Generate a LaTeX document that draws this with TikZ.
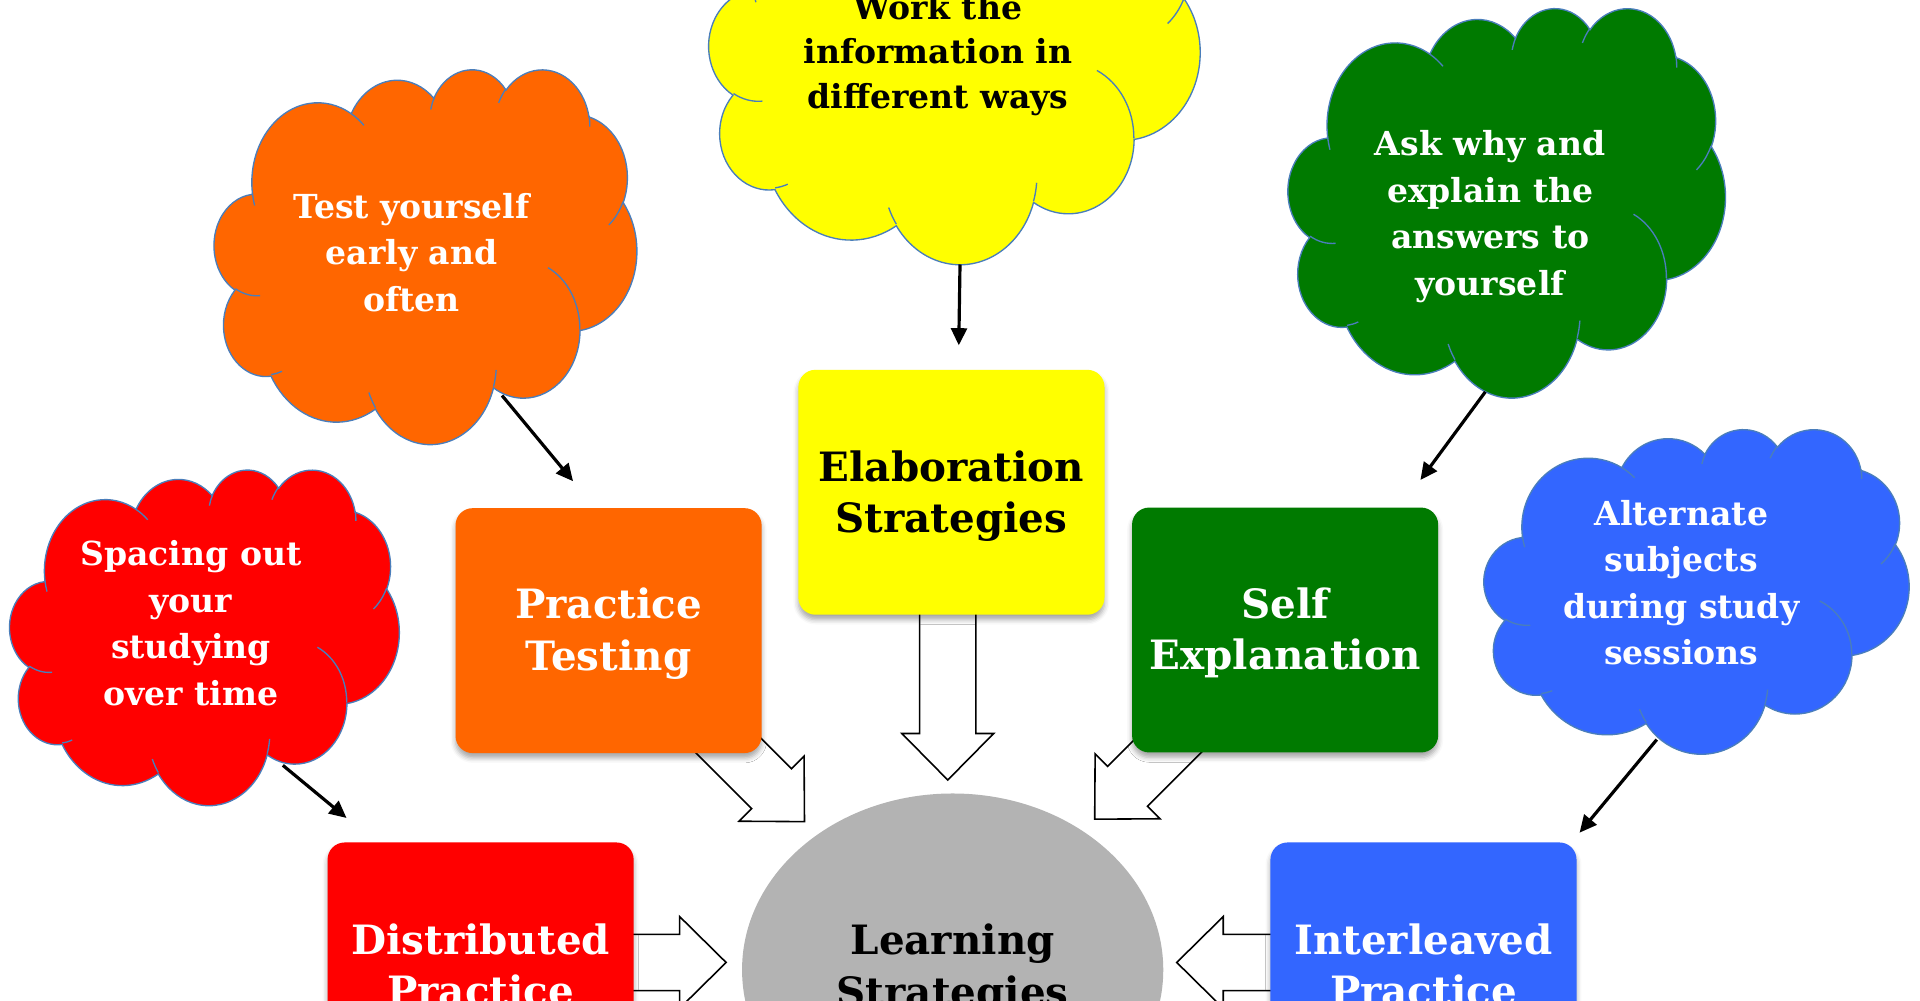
\documentclass[tikz,border=0pt]{standalone}
\usepackage{fontspec}
\setmainfont{DejaVu Serif}
\usetikzlibrary{shapes.geometric,arrows.meta,shadows.blur}

\definecolor{cOrange}{HTML}{FF6600}
\definecolor{cYellow}{HTML}{FFFF00}
\definecolor{cGreen}{HTML}{007A00}
\definecolor{cRed}{HTML}{FF0000}
\definecolor{cBlue}{HTML}{3366FF}
\definecolor{cGray}{HTML}{B3B3B3}
\definecolor{cOutline}{HTML}{4A7EBB}

\newcommand\boxfont{\fontsize{33}{42}\selectfont\bfseries}
\newcommand\cloudfont{\fontsize{27}{38}\selectfont\bfseries}

% elliptical arc with DrawingML-style (visual) angles
\newcommand\vArc[4]{%
 \pgfextra{%
  \pgfmathparse{atan2((#1)*sin(#3),(#2)*cos(#3))}\xdef\vaS{\pgfmathresult}%
  \pgfmathparse{atan2((#1)*sin((#3)+(#4)),(#2)*cos((#3)+(#4)))}\xdef\vaE{\pgfmathresult}%
  \pgfmathparse{\vaE-\vaS}\xdef\vaD{\pgfmathresult}%
  \pgfmathparse{(#4>0)?((\vaD<0)?(\vaD+360):(\vaD)):((\vaD>0)?(\vaD-360):(\vaD))}\xdef\vaD{\pgfmathresult}%
 }%
 arc[start angle=\vaS, delta angle=\vaD, x radius=#1, y radius=#2]%
}

\newcommand\ppcloud[5]{% x0 y0 w h fill
 \begin{scope}[shift={(#1,#2)},xscale=#3/432,yscale=#4/432]
  \filldraw[fill=#5, draw=cOutline, line width=1.1pt]
   (39,143.7)
   \vArc{67.53}{91.90}{-190.4875}{123.7805}
   \vArc{53.33}{72.67}{-144.1024}{89.9452}
   \vArc{43.65}{59.45}{-145.8079}{99.7230}
   \vArc{48.57}{65.95}{-130.9861}{117.2417}
   \vArc{53.33}{72.73}{-78.7089}{109.0269}
   \vArc{67.75}{92.20}{-46.2673}{130.2690}
   \vArc{57.85}{78.67}{0.6250}{114.0333}
   \vArc{67.52}{92.15}{22.4516}{115.1726}
   \vArc{77.20}{105.43}{66.2426}{75.7110}
   \vArc{43.60}{59.18}{-274.9421}{146.7356}
   \vArc{43.45}{59.45}{-246.8285}{152.5189}
   -- cycle;
  \draw[draw=cOutline, line width=1.1pt]
   (46.93,261.77) \vArc{43.45}{59.45}{86.7420}{26.4295}
   (69.28,348.99) \vArc{43.60}{59.18}{73.6105}{11.4475}
   (164.78,390.90) \vArc{67.52}{92.15}{137.6242}{14.0811}
   (288.27,347.51) \vArc{67.52}{92.15}{6.4533}{15.9984}
   (341.29,229.54) \vArc{57.85}{78.67}{-70.2924}{70.9174}
   (417.98,153.54) \vArc{53.33}{72.73}{30.3180}{27.7515}
   (383.24,54.26) \vArc{48.57}{65.95}{-13.7443}{14.8589}
   (290.78,39.52) \vArc{48.57}{65.95}{-149.1815}{18.1954}
   (221.41,47.20) \vArc{43.65}{59.45}{-163.4943}{17.6864}
   (140.00,51.92) \vArc{67.53}{91.90}{-66.7070}{12.3194}
   (41.27,157.89) \vArc{67.53}{91.90}{157.6544}{11.8582};
 \end{scope}}

\newcommand\blockarrow[5]{% name tipx tipy angle length
 \begin{scope}[shift={(#2,#3)},rotate=#4]
  \draw[blk] (0,0) -- (-38,37.5) -- (-38,23) -- (-#5,23) -- (-#5,-23) -- (-38,-23) -- (-38,-37.5) -- cycle;
  \coordinate (#1) at (0,0);
 \end{scope}}

\tikzset{
 stratbox/.style={rectangle, rounded corners=14pt, minimum width=250pt, minimum height=200pt,
   inner sep=0pt, align=center, font=\boxfont,
   blur shadow={shadow xshift=0pt, shadow yshift=-4pt, shadow blur radius=4pt, shadow opacity=35}},
 ctext/.style={align=center, font=\cloudfont, inner sep=0pt},
 thinarrow/.style={line width=2.6pt, -{Triangle[length=14pt,width=13pt]}},
 blk/.style={draw=black, line width=1.3pt, fill=white, line join=miter},
}

\begin{document}
\begin{tikzpicture}[x=1pt,y=-1pt]
\useasboundingbox (0,0) rectangle (1568,816.67);
\clip (0,0) rectangle (1568,816.67);

% clouds
\ppcloud{579}{-121}{401}{336}{cYellow}
\ppcloud{175}{56}{345}{306}{cOrange}
\ppcloud{1052}{6}{357}{318}{cGreen}
\ppcloud{8}{383}{318}{274}{cRed}
\ppcloud{1212}{350}{347}{265}{cBlue}

\node[ctext, text=black, font=\fontsize{27}{36}\selectfont\bfseries] (tyel) at (766,45) {Work the\\information in\\different ways};
\node[ctext, text=white] (tora) at (336,206) {Test yourself\\early and\\often};
\node[ctext, text=white] (tgre) at (1217,177) {Ask why and\\explain the\\answers to\\yourself};
\node[ctext, text=white] (tred) at (156,509) {Spacing out\\your\\studying\\over time};
\node[ctext, text=white] (tblu) at (1373,476) {Alternate\\subjects\\during study\\sessions};

% thin arrows
\coordinate (yS) at (784,216); \coordinate (yE) at (783,282);
\coordinate (oS) at (410,323); \coordinate (oE) at (468,393);
\coordinate (gS) at (1213,320); \coordinate (gE) at (1160,392);
\coordinate (rS) at (231,625); \coordinate (rE) at (283,668);
\coordinate (bS) at (1353,604); \coordinate (bE) at (1290,680);
\draw[thinarrow] (yS) -- (yE);
\draw[thinarrow] (oS) -- (oE);
\draw[thinarrow] (gS) -- (gE);
\draw[thinarrow] (rS) -- (rE);
\draw[thinarrow] (bS) -- (bE);

% block arrows
\blockarrow{aElab}{774}{637}{-90}{160}
\blockarrow{aPrac}{657}{671}{-45}{115}
\blockarrow{aSelf}{894}{669}{-135}{115}
\blockarrow{aDist}{593}{786}{0}{95}
\blockarrow{aInt}{961}{786}{180}{95}

% centre
\node[ellipse, fill=cGray, minimum width=344pt, minimum height=288pt, inner sep=0pt,
      align=center, font=\boxfont] (learn) at (778,792) {Learning\\Strategies};

% boxes
\node[stratbox, fill=cYellow, text=black] (elab) at (777,402) {};
\node[font=\boxfont, align=center, text=black] (elabT) at (777,405) {Elaboration\\Strategies};
\node[stratbox, fill=cOrange, text=white] (prac) at (497,515) {};
\node[font=\boxfont, align=center, text=white] (pracT) at (497,517.5) {Practice\\Testing};
\node[stratbox, fill=cGreen, text=white] (self) at (1049.5,514.5) {};
\node[font=\boxfont, align=center, text=white] (selfT) at (1049.5,517) {Self\\Explanation};
\node[stratbox, fill=cRed, text=white] (dist) at (392.5,788) {Distributed\\Practice};
\node[stratbox, fill=cBlue, text=white] (inter) at (1162.5,788) {Interleaved\\Practice};
\end{tikzpicture}
\end{document}
